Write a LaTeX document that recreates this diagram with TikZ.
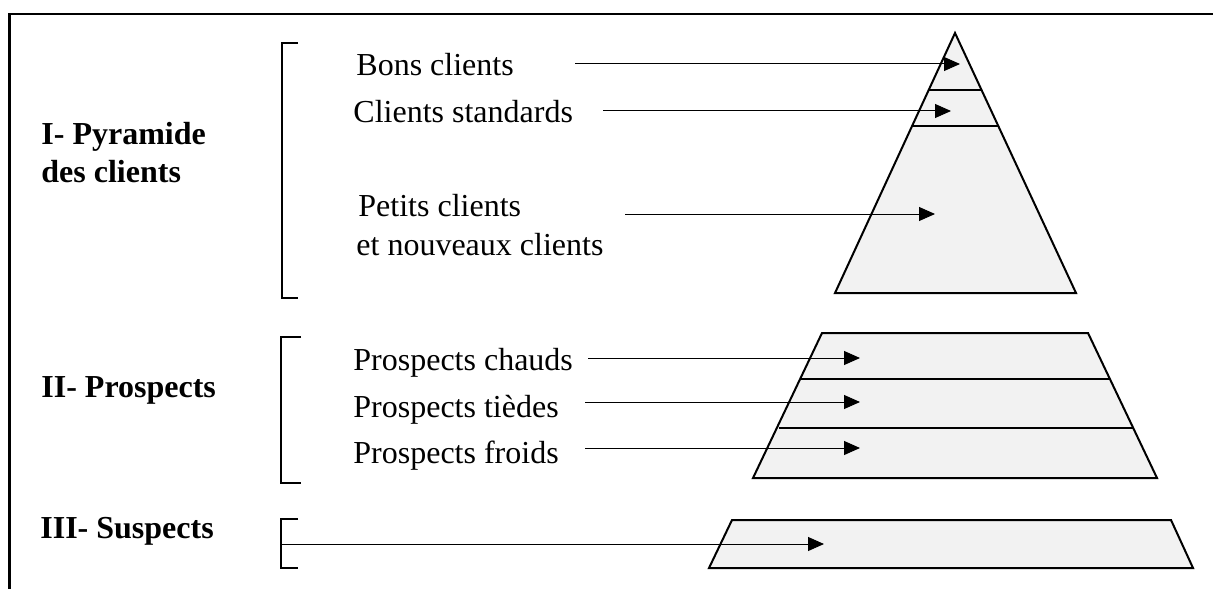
\documentclass[tikz,border=0pt]{standalone}
\usepackage{fontspec}
\setmainfont{Liberation Serif}
\usetikzlibrary{arrows.meta}
\definecolor{layerfill}{HTML}{F2F2F2}
\begin{document}
\begin{tikzpicture}[x=0.5pt,y=-0.5pt,
  txt/.style={anchor=base west,inner sep=0pt,font=\fontsize{16}{19}\selectfont},
  head/.style={txt,font=\fontsize{16}{19}\selectfont\bfseries},
  layer/.style={draw=black,line width=1pt,fill=layerfill,line join=miter},
  divider/.style={draw=black,line width=1pt},
  brace/.style={draw=black,line width=1pt},
  pointer/.style={draw=black,line width=0.5pt,-{Triangle[length=8pt,width=7pt]}}]
\useasboundingbox (0,0) rectangle (1213,588);
\clip (0,0) rectangle (1213,588);
% outer frame (runs off the right and bottom edges)
\draw[line width=1.2pt] (9.5,14) rectangle (1240,620);

% --- I: client pyramid ---
\path[layer] (955,33) -- (1076,293) -- (835,293) -- cycle;
\draw[divider] (929,90) -- (981,90);
\draw[divider] (912,126) -- (998,126);

% --- II: prospects trapezoid ---
\path[layer] (822,333) -- (1088,333) -- (1157,478) -- (753,478) -- cycle;
\draw[divider] (801,379) -- (1109,379);
\draw[divider] (779,428) -- (1133,428);

% --- III: suspects band ---
\path[layer] (732,520) -- (1171,520) -- (1193,568) -- (709,568) -- cycle;

% brackets
\draw[brace] (298,43) -- (282,43) -- (282,298) -- (298,298);
\draw[brace] (301,337) -- (281,337) -- (281,483) -- (301,483);
\draw[brace] (298,519) -- (281,519) -- (281,568) -- (298,568);

% section headings
\node[head] (hPyr) at (41,145) {I- Pyramide};
\node[head] (hPyr2) at (41,183) {des clients};
\node[head] (hPros) at (41,397) {II- Prospects};
\node[head] (hSus) at (40,538) {III- Suspects};

% layer labels
\node[txt] (tBons) at (356,76) {Bons clients};
\node[txt] (tStd) at (353,123) {Clients standards};
\node[txt] (tPetits) at (358,216) {Petits clients};
\node[txt] (tNouv) at (356,255) {et nouveaux clients};
\node[txt] (tChauds) at (353,370) {Prospects chauds};
\node[txt] (tTiedes) at (353,417) {Prospects tièdes};
\node[txt] (tFroids) at (353,463) {Prospects froids};

% pointer ends
\coordinate (sBons) at (575,64);   \coordinate (eBons) at (960,64);
\coordinate (sStd) at (603,111);   \coordinate (eStd) at (951,111);
\coordinate (sPetits) at (625,214);\coordinate (ePetits) at (935,214);
\coordinate (sChauds) at (588,358);\coordinate (eChauds) at (860,358);
\coordinate (sTiedes) at (585,402);\coordinate (eTiedes) at (860,402);
\coordinate (sFroids) at (585,448);\coordinate (eFroids) at (860,448);
\coordinate (sSus) at (281,544);   \coordinate (eSus) at (824,544);

\draw[pointer] (sBons) -- (eBons);
\draw[pointer] (sStd) -- (eStd);
\draw[pointer] (sPetits) -- (ePetits);
\draw[pointer] (sChauds) -- (eChauds);
\draw[pointer] (sTiedes) -- (eTiedes);
\draw[pointer] (sFroids) -- (eFroids);
\draw[pointer] (sSus) -- (eSus);
\end{tikzpicture}
\end{document}
